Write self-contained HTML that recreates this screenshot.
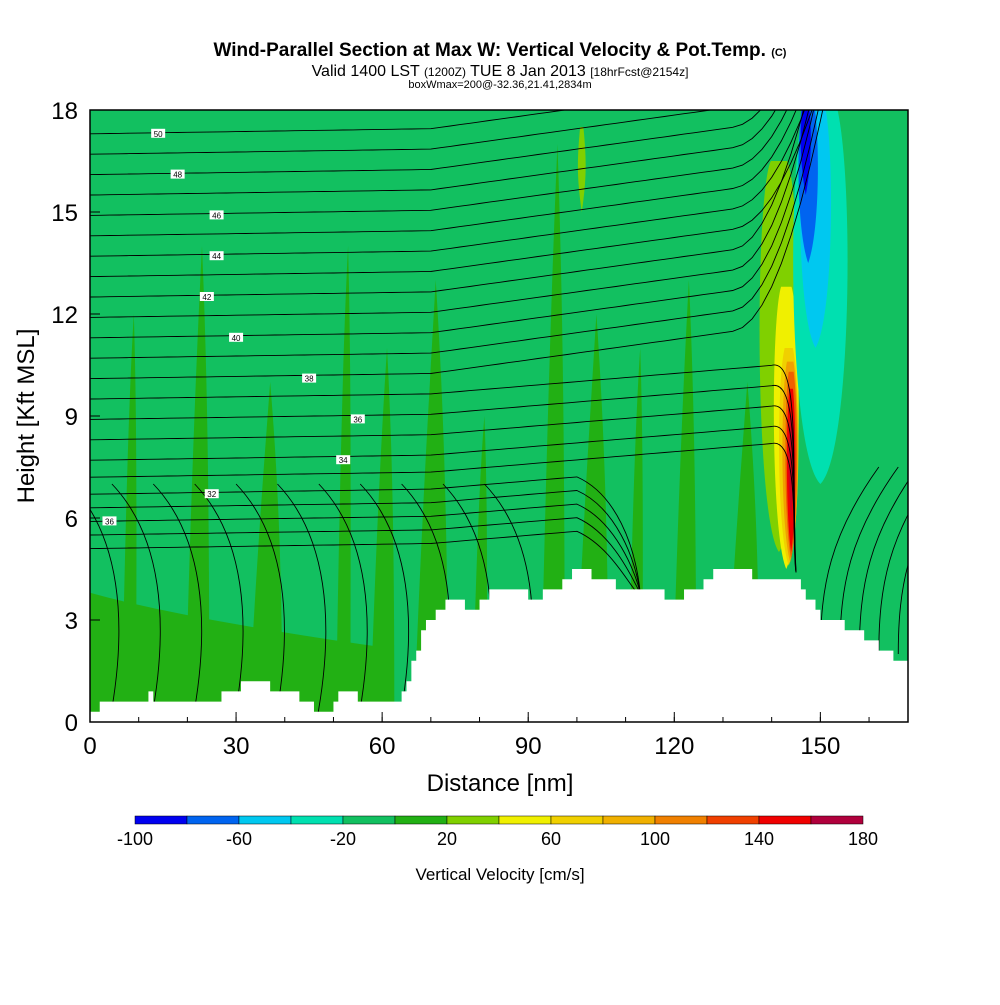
<!DOCTYPE html>
<html><head><meta charset="utf-8"><style>
body{margin:0;background:#fff;font-family:"Liberation Sans",sans-serif}
svg text{font-family:"Liberation Sans",sans-serif}
</style></head><body>
<svg id="c" width="1000" height="1000" viewBox="0 0 1000 1000">
<text x="500" y="56" text-anchor="middle" font-size="19" font-weight="bold">Wind-Parallel Section at Max W: Vertical Velocity &amp; Pot.Temp. <tspan font-size="11">(C)</tspan></text>
<text x="500" y="76" text-anchor="middle" font-size="16">Valid 1400 LST <tspan font-size="12">(1200Z)</tspan> TUE 8 Jan 2013 <tspan font-size="12">[18hrFcst@2154z]</tspan></text>
<text x="500" y="88" text-anchor="middle" font-size="11">boxWmax=200@-32.36,21.41,2834m</text>
<defs><clipPath id="pc"><rect x="90" y="110" width="818" height="612"/></clipPath></defs>
<g id="plot" clip-path="url(#pc)">
<rect x="90" y="110" width="818" height="612" fill="#12c060"/>
<g id="streaks"></g>
<g id="updraft"></g>
<g id="contours" fill="none" stroke="#000" stroke-width="0.9"></g>
<path id="terrain" fill="#fff"/>
<g id="labels"></g>
</g>
<rect x="90" y="110" width="818" height="612" fill="none" stroke="#000" stroke-width="1.5"/>
<g id="axes"></g>
<text x="500" y="791" text-anchor="middle" font-size="24">Distance [nm]</text>
<text transform="translate(34,416) rotate(-90)" text-anchor="middle" font-size="24">Height [Kft MSL]</text>
<g id="cbar"></g>
<text x="500" y="880" text-anchor="middle" font-size="17">Vertical Velocity [cm/s]</text>
</svg>
<script>
const NS="http://www.w3.org/2000/svg";
const xTicks=[0,30,60,90,120,150];
const yTicks=[0,3,6,9,12,15,18];
const terrainX=[0,2,12,13,26,27,31,37,43,46,50,51,55,62,64,65,66,67,68,69,71,73,77,80,82,90,93,97,99,103,108,118,122,126,128,136,145,146,147,149,150,155,159,162,165,168];
const terrainH=[0.3,0.6,0.9,0.6,0.6,0.9,1.2,0.9,0.6,0.3,0.6,0.9,0.6,0.6,0.9,1.2,1.8,2.1,2.7,3.0,3.3,3.6,3.3,3.6,3.9,3.6,3.9,4.2,4.5,4.2,3.9,3.6,3.9,4.2,4.5,4.2,4.2,3.9,3.6,3.3,3.0,2.7,2.4,2.1,1.8,1.6];
const contourLeftH=[17.3,16.7,16.1,15.5,14.9,14.3,13.7,13.1,12.5,11.9,11.3,10.7,10.1,9.5,8.9,8.3,7.7,7.2,6.7,6.3,5.9,5.5,5.1];
const cbLevels=[-100,-80,-60,-40,-20,0,20,40,60,80,100,120,140,160,180];
const cbColors=["#0000f0","#0064f0","#00c8f0","#00e0b0","#12c060","#22b014","#80d000","#f0f000","#f0d000","#f0b000","#f08000","#f04000","#f00000","#b0003c"];
const streakX=[8,22,36,52,60,70,80,95,103,112,122,134];
const streakTop=[12,14,10,14,11,13,9,17,12,11,13,10];
const labelX=[14,18,26,26,24,30,45,55,52,25,4];
const labelVal=[50,48,46,44,42,40,38,36,34,32,36];
const X=v=>90+v*818/168, Y=v=>722-v*612/18;
function el(t,a,p){const e=document.createElementNS(NS,t);for(const k in a)e.setAttribute(k,a[k]);(p||document.getElementById('c')).appendChild(e);return e;}
const ax=document.getElementById('axes');
xTicks.forEach(v=>{const t=el('text',{x:X(v),y:754,'text-anchor':'middle','font-size':24},ax);t.textContent=v;


el('line',{x1:X(v),x2:X(v),y1:722,y2:712,stroke:'#000'},ax);});
for(let v=0;v<=168;v+=10){el('line',{x1:X(v),x2:X(v),y1:722,y2:717,stroke:'#000'},ax);}
yTicks.forEach(v=>{const t=el('text',{x:78,y:Y(v)+9,'text-anchor':'end','font-size':24},ax);t.textContent=v;


el('line',{x1:90,x2:100,y1:Y(v),y2:Y(v),stroke:'#000'},ax);});
const sg=document.getElementById('streaks');
el('path',{d:`M${X(0)},722 L${X(0)},${Y(3.8)} C${X(15)},${Y(3.2)} ${X(40)},${Y(2.6)} ${X(60)},${Y(2.2)} L${X(60)},722Z`,fill:'#22b014'},sg);
streakX.forEach((s,i)=>{const w=1.5+(i%3);const top=streakTop[i];const p=el('path',{d:`M${X(s-w)},722 C${X(s-w/2)},${Y(top*0.5)} ${X(s)},${Y(top*0.8)} ${X(s+1)},${Y(top)} C${X(s+w/2+1)},${Y(top*0.7)} ${X(s+w)},${Y(top*0.4)} ${X(s+w)},722 Z`,fill:'#22b014'},sg);

});
const ug=document.getElementById('updraft');
const blobs=[[141.5,5,16.5,5,"#80d000"],[143,4.5,12.8,3.2,"#f0f000"],[143.5,4.6,11,2.5,"#f0d000"],[143.8,4.7,10.6,2,"#f0a000"],[144,4.8,10.3,1.5,"#f06000"],[144,5,9.8,1.1,"#f00000"],[144,6,9,0.7,"#d00020"],
[150,7,18.5,7,"#00e0b0"],[149,11,18.5,4,"#00c8f0"],[147.5,13.5,18.5,2.5,"#0064f0"],[147,15.5,18.5,1.3,"#0000f0"],[101,15,17.5,1,"#80d000"]];
blobs.forEach(b=>{const [cx,y0,y1,w,c]=b;const p=el('path',{d:`M${X(cx)},${Y(y0)} C${X(cx-w)},${Y(y0+1)} ${X(cx-w)},${Y(y1-1)} ${X(cx-w/3)},${Y(y1)} L${X(cx+w/3)},${Y(y1)} C${X(cx+w)},${Y(y1-1)} ${X(cx+w)},${Y(y0+1)} ${X(cx)},${Y(y0)}Z`,fill:c},ug);

});
const cg=document.getElementById('contours');
function offs(x,h){let a=x<70?0.15*x/70:0.15+(x-70)*(h>10?0.02:0.012);
 if(x>132&&h>10)a+=(x-132)*(x-132)*0.012*(h>13?1:1.5);
 return a;}
contourLeftH.forEach((h,i)=>{let d='';const xmax=h>9.6?168:(h>7?140:100);for(let x=0;x<=xmax;x+=2){let y=h+offs(x,h);d+=(x?'L':'M')+X(x).toFixed(1)+','+Y(Math.min(y,19)).toFixed(1);}
if(h<=9.6&&h>7){d+=` C${X(146)},${Y(h+1.2)} ${X(144)},${Y(h-2)} ${X(145)},${Y(4.4)}`;}
if(h<=7){d+=` C${X(108)},${Y(h)} ${X(112)},${Y(h-1.5)} ${X(113)},${Y(3.8)}`;}
const p=el('path',{d},cg);

});
for(let k=0;k<11;k++){const x0=4+k*8.5;const p=el('path',{d:`M${X(x0)},722 C${X(x0+4)},${Y(3)} ${X(x0+2)},${Y(5.5)} ${X(x0-8)},${Y(7)}`},cg);

}
for(let k=0;k<5;k++){const x0=150+k*4;const p=el('path',{d:`M${X(x0)},${Y(2)} C${X(x0)},${Y(4)} ${X(x0+2)},${Y(5.5)} ${X(x0+12)},${Y(7.5)}`},cg);

}
let d=`M${X(0)},722`;terrainX.forEach((x,i)=>{const nx=i<terrainX.length-1?terrainX[i+1]:168;d+=` L${X(x)},${Y(terrainH[i])} L${X(nx)},${Y(terrainH[i])}`;});d+=` L${X(168)},722Z`;
document.getElementById('terrain').setAttribute('d',d);
const lg=document.getElementById('labels');
labelX.forEach((x,i)=>{const h=contourLeftH[i*2]||6;const g=el('g',{},lg);


el('rect',{x:X(x)-7,y:Y(h)-5,width:14,height:9,fill:'#fff'},g);const t=el('text',{x:X(x),y:Y(h)+3,'text-anchor':'middle','font-size':8},g);t.textContent=labelVal[i];});
const cb=document.getElementById('cbar');
cbColors.forEach((c,i)=>{const r=el('rect',{x:135+i*52,y:816,width:52,height:8,fill:c,stroke:'#000','stroke-width':0.5},cb);

});
cbLevels.forEach((v,i)=>{if(i%2)return;const t=el('text',{x:135+i*52,y:845,'text-anchor':'middle','font-size':18},cb);t.textContent=v;

});
</script>
</body></html>
